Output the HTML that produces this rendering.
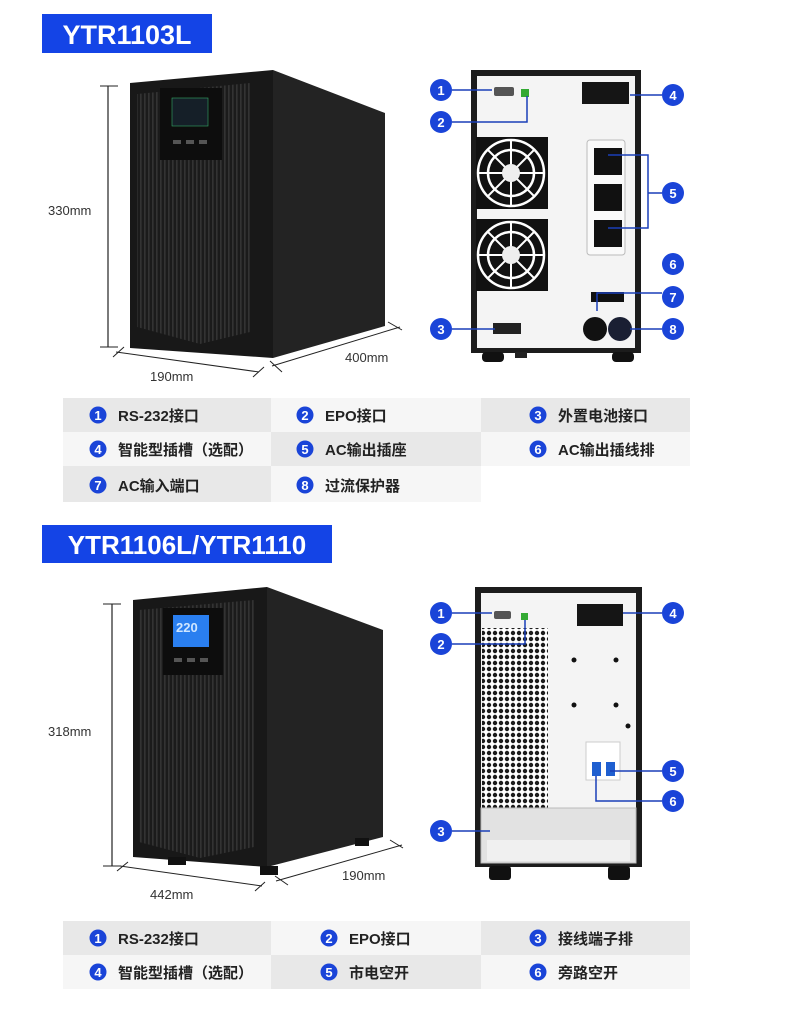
<!DOCTYPE html>
<html><head><meta charset="utf-8"><style>
html,body{margin:0;padding:0;background:#fff}
svg{display:block}
text{font-family:"Liberation Sans","Noto Sans CJK SC",sans-serif}
.b{fill:#1a44d8}
.bt{fill:#fff;font-weight:bold;font-size:13px;text-anchor:middle}
.t{font-size:15px;fill:#222;font-weight:bold}
.d{font-size:13px;fill:#333}
.ln{stroke:#1a3fb8;stroke-width:1.5;fill:none}
</style></head><body>
<svg width="790" height="1013" viewBox="0 0 790 1013" xmlns="http://www.w3.org/2000/svg">
<defs>
<pattern id="fin" width="4" height="10" patternUnits="userSpaceOnUse"><rect width="4" height="10" fill="#1b1b1b"/><rect width="1.6" height="10" fill="#333"/></pattern>
<pattern id="perf" width="6" height="6" patternUnits="userSpaceOnUse"><rect width="6" height="6" fill="#fff"/><circle cx="3" cy="3" r="2.2" fill="#1c1c1c"/></pattern>
</defs>

<rect x="42" y="14" width="170" height="39" fill="#1444e6"/>
<text x="127" y="44" fill="#fff" font-size="27" font-weight="bold" text-anchor="middle">YTR1103L</text>

<polygon points="273,70 385,113 385,326 273,358" fill="#232323"/>
<polygon points="130,83 273,70 273,358 130,348" fill="#181818"/>
<polygon points="137,94 250,83 250,332 200,344 137,327" fill="url(#fin)"/>
<rect x="160" y="88" width="62" height="72" fill="#0d0d0d"/>
<rect x="172" y="98" width="36" height="28" fill="#151f28" stroke="#3a6" stroke-width="0.6"/>
<rect x="173" y="140" width="8" height="4" fill="#555"/><rect x="186" y="140" width="8" height="4" fill="#555"/><rect x="199" y="140" width="8" height="4" fill="#555"/>
<line x1="108" y1="86" x2="108" y2="347" stroke="#222" stroke-width="1.2"/>
<line x1="100" y1="86" x2="118" y2="86" stroke="#222"/><line x1="100" y1="347" x2="118" y2="347" stroke="#222"/>
<text x="48" y="215" class="d">330mm</text>
<line x1="116" y1="352" x2="259" y2="372" stroke="#222"/>
<line x1="113" y1="357" x2="124" y2="347" stroke="#222"/><line x1="253" y1="377" x2="264" y2="367" stroke="#222"/>
<text x="150" y="381" class="d">190mm</text>
<line x1="272" y1="366" x2="400" y2="327" stroke="#222"/>
<line x1="270" y1="361" x2="282" y2="372" stroke="#222"/><line x1="388" y1="322" x2="402" y2="330" stroke="#222"/>
<text x="345" y="362" class="d">400mm</text>

<rect x="471" y="70" width="170" height="283" fill="#1c1c1c"/>
<rect x="477" y="76" width="158" height="272" fill="#f4f4f4"/>
<rect x="482" y="352" width="22" height="10" rx="4" fill="#111"/><rect x="612" y="352" width="22" height="10" rx="4" fill="#111"/><rect x="515" y="352" width="12" height="6" fill="#222"/>
<rect x="494" y="87" width="20" height="9" rx="2" fill="#555"/>
<rect x="521" y="89" width="8" height="8" fill="#3a3"/>
<rect x="582" y="82" width="47" height="22" fill="#151515"/>
<g fill="#111"><rect x="476" y="137" width="72" height="72"/><rect x="476" y="219" width="72" height="72"/></g>
<g stroke="#fff" stroke-width="2.5" fill="none"><circle cx="511" cy="173" r="33"/><circle cx="511" cy="173" r="23"/><circle cx="511" cy="255" r="33"/><circle cx="511" cy="255" r="23"/></g>
<g stroke="#fff" stroke-width="2">
<line x1="478" y1="173" x2="544" y2="173"/><line x1="511" y1="140" x2="511" y2="206"/><line x1="488" y1="150" x2="534" y2="196"/><line x1="534" y1="150" x2="488" y2="196"/>
<line x1="478" y1="255" x2="544" y2="255"/><line x1="511" y1="222" x2="511" y2="288"/><line x1="488" y1="232" x2="534" y2="278"/><line x1="534" y1="232" x2="488" y2="278"/>
</g>
<circle cx="511" cy="173" r="9" fill="#eee"/><circle cx="511" cy="255" r="9" fill="#eee"/>
<rect x="587" y="140" width="38" height="115" rx="3" fill="#fafafa" stroke="#bbb"/>
<g fill="#111"><rect x="594" y="148" width="28" height="27"/><rect x="594" y="184" width="28" height="27"/><rect x="594" y="220" width="28" height="27"/></g>
<rect x="591" y="292" width="33" height="10" fill="#111"/>
<circle cx="595" cy="329" r="12" fill="#111"/><circle cx="620" cy="329" r="12" fill="#1a1f33"/>
<rect x="493" y="323" width="28" height="11" fill="#222"/>
<path class="ln" d="M452,90 H492"/>
<path class="ln" d="M452,122 H527 V96"/>
<path class="ln" d="M452,329 H495"/>
<path class="ln" d="M662,95 H630"/>
<path class="ln" d="M608,155 H648 V228 H608 M648,193 H662"/>
<path class="ln" d="M597,300 V293 H662 M597,300 V311"/>
<path class="ln" d="M630,329 H662"/>
<g>
<circle cx="441" cy="90" r="11" class="b"/><text x="441" y="95" class="bt">1</text>
<circle cx="441" cy="122" r="11" class="b"/><text x="441" y="127" class="bt">2</text>
<circle cx="441" cy="329" r="11" class="b"/><text x="441" y="334" class="bt">3</text>
<circle cx="673" cy="95" r="11" class="b"/><text x="673" y="100" class="bt">4</text>
<circle cx="673" cy="193" r="11" class="b"/><text x="673" y="198" class="bt">5</text>
<circle cx="673" cy="264" r="11" class="b"/><text x="673" y="269" class="bt">6</text>
<circle cx="673" cy="297" r="11" class="b"/><text x="673" y="302" class="bt">7</text>
<circle cx="673" cy="329" r="11" class="b"/><text x="673" y="334" class="bt">8</text>
</g>

<rect x="63" y="398" width="208" height="34" fill="#e8e8e8"/><rect x="271" y="398" width="210" height="34" fill="#f6f6f6"/><rect x="481" y="398" width="209" height="34" fill="#e8e8e8"/>
<rect x="63" y="432" width="208" height="34" fill="#f6f6f6"/><rect x="271" y="432" width="210" height="34" fill="#e8e8e8"/><rect x="481" y="432" width="209" height="34" fill="#f6f6f6"/>
<rect x="63" y="466" width="208" height="36" fill="#e8e8e8"/><rect x="271" y="466" width="210" height="36" fill="#f6f6f6"/>
<g>
<circle cx="98" cy="415" r="8.5" class="b"/><text x="98" y="420" class="bt" font-size="11">1</text><text x="118" y="421" class="t">RS-232接口</text>
<circle cx="305" cy="415" r="8.5" class="b"/><text x="305" y="420" class="bt" font-size="11">2</text><text x="325" y="421" class="t">EPO接口</text>
<circle cx="538" cy="415" r="8.5" class="b"/><text x="538" y="420" class="bt" font-size="11">3</text><text x="558" y="421" class="t">外置电池接口</text>
<circle cx="98" cy="449" r="8.5" class="b"/><text x="98" y="454" class="bt" font-size="11">4</text><text x="118" y="455" class="t">智能型插槽（选配）</text>
<circle cx="305" cy="449" r="8.5" class="b"/><text x="305" y="454" class="bt" font-size="11">5</text><text x="325" y="455" class="t">AC输出插座</text>
<circle cx="538" cy="449" r="8.5" class="b"/><text x="538" y="454" class="bt" font-size="11">6</text><text x="558" y="455" class="t">AC输出插线排</text>
<circle cx="98" cy="485" r="8.5" class="b"/><text x="98" y="490" class="bt" font-size="11">7</text><text x="118" y="491" class="t">AC输入端口</text>
<circle cx="305" cy="485" r="8.5" class="b"/><text x="305" y="490" class="bt" font-size="11">8</text><text x="325" y="491" class="t">过流保护器</text>
</g>

<rect x="42" y="525" width="290" height="38" fill="#1444e6"/>
<text x="187" y="554" fill="#fff" font-size="26" font-weight="bold" text-anchor="middle">YTR1106L/YTR1110</text>

<polygon points="267,587 383,630 383,837 267,867" fill="#232323"/>
<polygon points="133,600 267,587 267,867 133,857" fill="#181818"/>
<polygon points="139,610 254,600 254,847 200,858 139,842" fill="url(#fin)"/>
<rect x="163" y="608" width="60" height="67" fill="#0d0d0d"/>
<rect x="173" y="615" width="36" height="32" fill="#2a7ff0"/>
<text x="176" y="632" fill="#cfe6ff" font-size="13" font-weight="bold">220</text>
<rect x="174" y="658" width="8" height="4" fill="#555"/><rect x="187" y="658" width="8" height="4" fill="#555"/><rect x="200" y="658" width="8" height="4" fill="#555"/>
<rect x="168" y="857" width="18" height="8" fill="#111"/><rect x="260" y="866" width="18" height="9" fill="#111"/><rect x="355" y="838" width="14" height="8" fill="#111"/>
<line x1="112" y1="604" x2="112" y2="866" stroke="#222" stroke-width="1.2"/>
<line x1="103" y1="604" x2="121" y2="604" stroke="#222"/><line x1="103" y1="866" x2="121" y2="866" stroke="#222"/>
<text x="48" y="736" class="d">318mm</text>
<line x1="120" y1="866" x2="262" y2="886" stroke="#222"/>
<line x1="117" y1="871" x2="128" y2="862" stroke="#222"/><line x1="255" y1="891" x2="265" y2="882" stroke="#222"/>
<text x="150" y="899" class="d">442mm</text>
<line x1="276" y1="881" x2="402" y2="845" stroke="#222"/>
<line x1="275" y1="876" x2="288" y2="885" stroke="#222"/><line x1="390" y1="840" x2="403" y2="848" stroke="#222"/>
<text x="342" y="880" class="d">190mm</text>

<rect x="475" y="587" width="167" height="280" fill="#1c1c1c"/>
<rect x="481" y="593" width="155" height="270" fill="#f4f4f4"/>
<rect x="482" y="628" width="66" height="180" fill="url(#perf)"/>
<rect x="489" y="866" width="22" height="14" rx="3" fill="#111"/><rect x="608" y="866" width="22" height="14" rx="3" fill="#111"/>
<rect x="494" y="611" width="17" height="8" rx="2" fill="#555"/>
<rect x="521" y="613" width="7" height="7" fill="#3a3"/>
<rect x="577" y="604" width="46" height="22" fill="#151515"/>
<g fill="#111"><circle cx="574" cy="660" r="2.5"/><circle cx="616" cy="660" r="2.5"/><circle cx="574" cy="705" r="2.5"/><circle cx="616" cy="705" r="2.5"/><circle cx="628" cy="726" r="2.5"/></g>
<rect x="586" y="742" width="34" height="38" fill="#fff" stroke="#ccc"/>
<rect x="592" y="762" width="9" height="14" fill="#1f5fd0"/><rect x="606" y="762" width="9" height="14" fill="#1f5fd0"/>
<rect x="481" y="808" width="155" height="55" fill="#e2e2e2" stroke="#bbb"/>
<rect x="487" y="840" width="143" height="21" fill="#f0f0f0"/>
<path class="ln" d="M452,613 H492"/>
<path class="ln" d="M452,644 H525 V620"/>
<path class="ln" d="M452,831 H490"/>
<path class="ln" d="M662,613 H623"/>
<path class="ln" d="M610,771 H662"/>
<path class="ln" d="M596,776 V801 H662"/>
<g>
<circle cx="441" cy="613" r="11" class="b"/><text x="441" y="618" class="bt">1</text>
<circle cx="441" cy="644" r="11" class="b"/><text x="441" y="649" class="bt">2</text>
<circle cx="441" cy="831" r="11" class="b"/><text x="441" y="836" class="bt">3</text>
<circle cx="673" cy="613" r="11" class="b"/><text x="673" y="618" class="bt">4</text>
<circle cx="673" cy="771" r="11" class="b"/><text x="673" y="776" class="bt">5</text>
<circle cx="673" cy="801" r="11" class="b"/><text x="673" y="806" class="bt">6</text>
</g>

<rect x="63" y="921" width="208" height="34" fill="#e8e8e8"/><rect x="271" y="921" width="210" height="34" fill="#f6f6f6"/><rect x="481" y="921" width="209" height="34" fill="#e8e8e8"/>
<rect x="63" y="955" width="208" height="34" fill="#f6f6f6"/><rect x="271" y="955" width="210" height="34" fill="#e8e8e8"/><rect x="481" y="955" width="209" height="34" fill="#f6f6f6"/>
<g>
<circle cx="98" cy="938" r="8.5" class="b"/><text x="98" y="943" class="bt" font-size="11">1</text><text x="118" y="944" class="t">RS-232接口</text>
<circle cx="329" cy="938" r="8.5" class="b"/><text x="329" y="943" class="bt" font-size="11">2</text><text x="349" y="944" class="t">EPO接口</text>
<circle cx="538" cy="938" r="8.5" class="b"/><text x="538" y="943" class="bt" font-size="11">3</text><text x="558" y="944" class="t">接线端子排</text>
<circle cx="98" cy="972" r="8.5" class="b"/><text x="98" y="977" class="bt" font-size="11">4</text><text x="118" y="978" class="t">智能型插槽（选配）</text>
<circle cx="329" cy="972" r="8.5" class="b"/><text x="329" y="977" class="bt" font-size="11">5</text><text x="349" y="978" class="t">市电空开</text>
<circle cx="538" cy="972" r="8.5" class="b"/><text x="538" y="977" class="bt" font-size="11">6</text><text x="558" y="978" class="t">旁路空开</text>
</g>
</svg>
</body></html>
